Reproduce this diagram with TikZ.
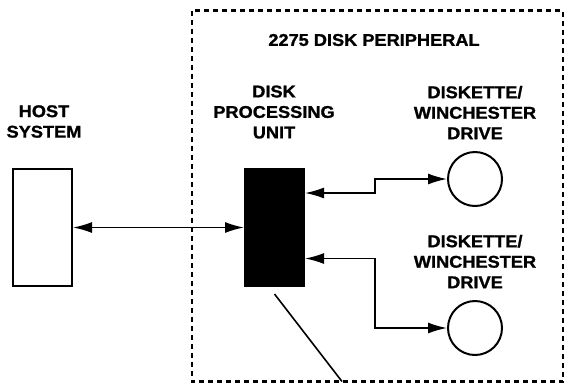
\documentclass[tikz,border=0pt]{standalone}
\usepackage{fontspec}
\setmainfont{Liberation Sans}[FakeStretch = 1.07, FakeBold = 1.2]
\usetikzlibrary{arrows.meta}

\begin{document}
\begin{tikzpicture} [x = 1pt, y = -1pt, line width = 1.6pt,
	>= {Latex[length = 19pt, width = 11pt]},
	caption/.style = {font = \bfseries\fontsize{17}{20.5}\selectfont, align = center, inner sep = 0pt},
	unit/.style = {draw, line width = 2pt, minimum width = 59pt, minimum height = 117pt, inner sep = 0pt},
	drive/.style = {draw, circle, line width = 2pt, minimum size = 54pt, inner sep = 0pt}]
	\useasboundingbox (0,0) rectangle (564,384);
	% dashed border of the peripheral
	\draw [dash pattern = on 5pt off 4pt, line width = 2.4pt] (192,10.5) rectangle (563,381.5);
	\node [caption] (title) at (374,40) {2275 DISK PERIPHERAL};
	% host side
	\node [unit] (host) at (42.5,227.5) {};
	\node [caption] (hostlabel) at (44,121.5) {HOST\\SYSTEM};
	% processing unit
	\node [unit, fill = black] (dpu) at (274.5,227.5) {};
	\node [caption] (dpulabel) at (274,112) {DISK\\PROCESSING\\UNIT};
	% drives
	\node [drive] (drivea) at (475,179) {};
	\node [drive] (driveb) at (475,328) {};
	\node [caption] (drivealabel) at (475,112.5) {DISKETTE/\\WINCHESTER\\DRIVE};
	\node [caption] (driveblabel) at (475,261.5) {DISKETTE/\\WINCHESTER\\DRIVE};
	\coordinate (bus) at (375,227.5);
	\coordinate (porta) at ([yshift = 34.5pt]dpu.east);
	\coordinate (portb) at ([yshift = -31pt]dpu.east);
	\coordinate (tail) at (342,381.5);
	% connections
	\draw [<->] (host.east) -- (dpu.west);
	\draw [<->] (porta) -| (bus |- drivea) -- (drivea.west);
	\draw [<->] (portb) -| (bus |- driveb) -- (driveb.west);
	\draw ([yshift = -7pt]dpu.south) -- (tail);
\end{tikzpicture}
\end{document}
